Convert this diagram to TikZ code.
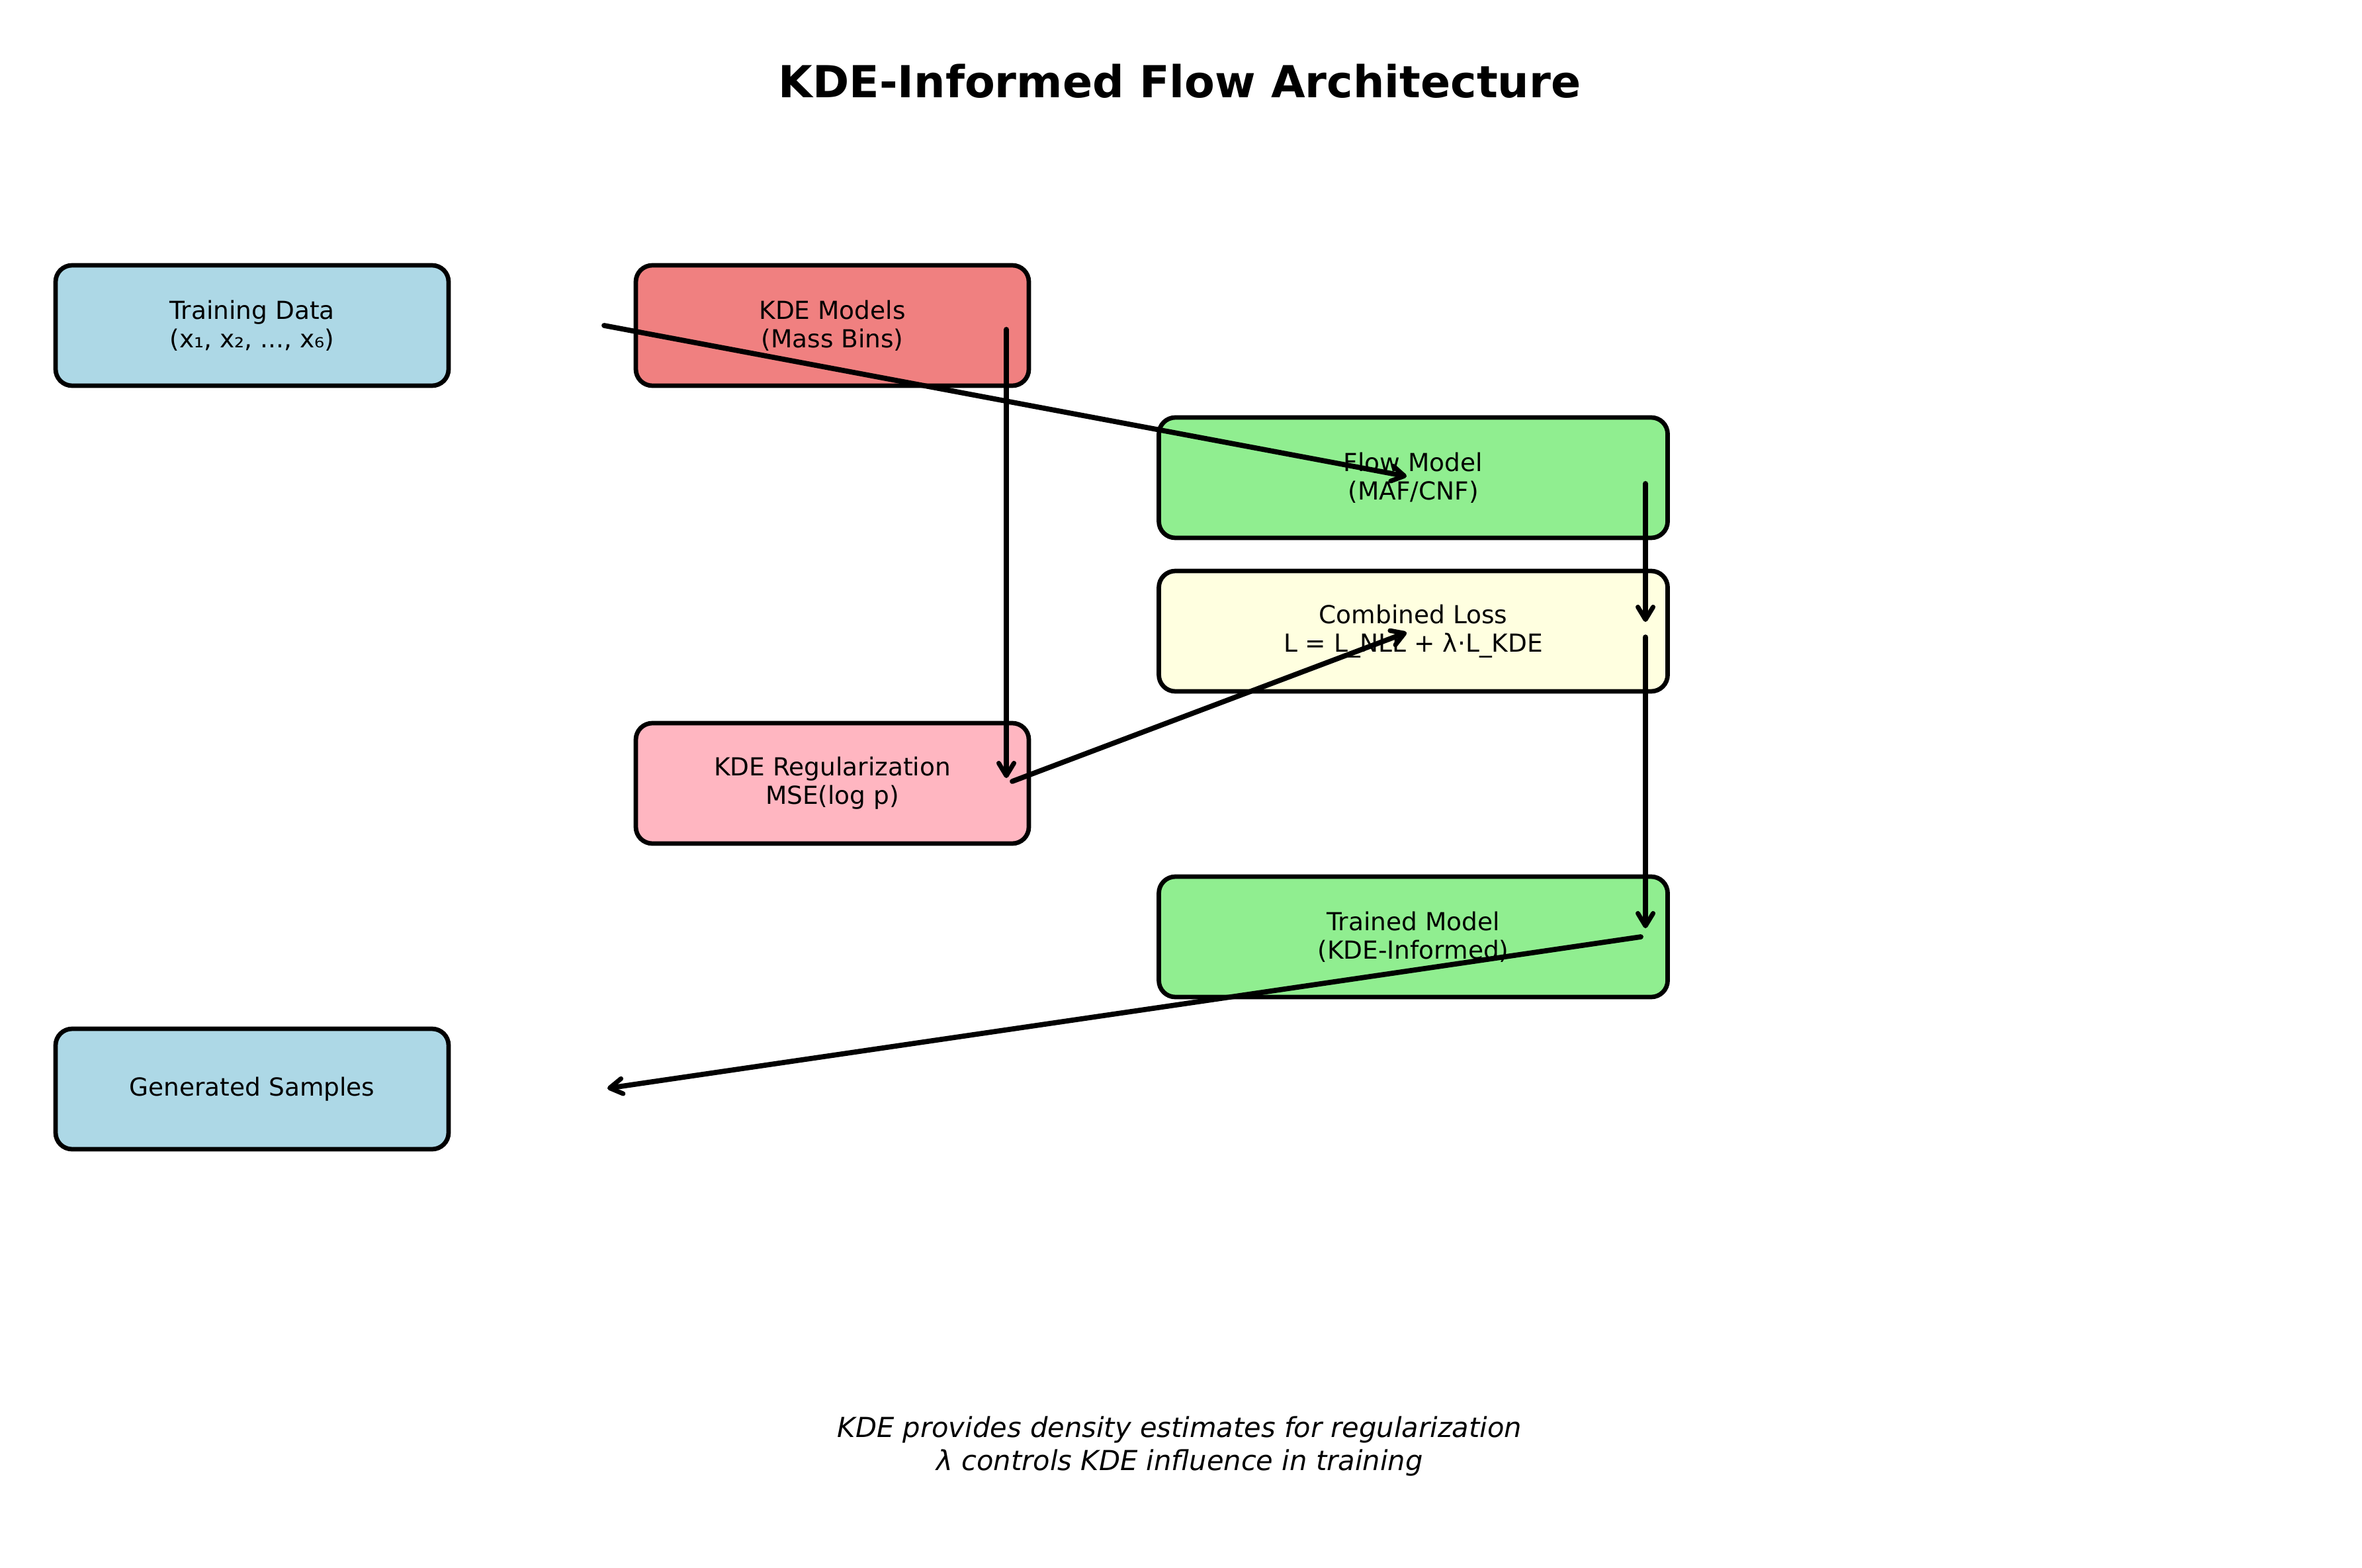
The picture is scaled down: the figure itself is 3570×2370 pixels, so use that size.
\documentclass[tikz,border=0pt]{standalone}
\usepackage{fontspec}
\setmainfont{DejaVu Sans}
\usetikzlibrary{arrows.meta}
\definecolor{cblue}{HTML}{ADD8E6}
\definecolor{ccoral}{HTML}{F08080}
\definecolor{cgreen}{HTML}{90EE90}
\definecolor{cyellow}{HTML}{FFFFE0}
\definecolor{cpink}{HTML}{FFB6C1}
\tikzset{
  box/.style={draw=black, line width=1.35pt, rounded corners=5pt, inner sep=0pt,
    minimum height=36.4pt, align=center,
    font=\fontsize{7.5pt}{8.6pt}\selectfont},
  narrowbox/.style={box, minimum width=118.8pt},
  widebox/.style={box, minimum width=153.8pt},
  flowarrow/.style={line width=1.55pt, line cap=round,
    -{Straight Barb[length=3.8pt,width=4.6pt,line width=1.4pt,round]}},
}
\begin{document}
\begin{tikzpicture}[x=0.2pt,y=-0.2pt]
\useasboundingbox (0,0) rectangle (3570,2370);
\node[font=\bfseries\fontsize{13.33pt}{16pt}\selectfont] (title) at (1783,123) {KDE-Informed Flow Architecture};
\node[narrowbox, fill=cblue] (td) at (381,492) {Training Data\\(x₁, x₂, ..., x₆)};
\node[narrowbox, fill=ccoral] (kde) at (1258,492) {KDE Models\\(Mass Bins)};
\node[widebox, fill=cgreen] (flow) at (2136,722) {Flow Model\\(MAF/CNF)};
\node[widebox, fill=cyellow] (loss) at (2136,954) {Combined Loss\\L = L\_NLL + λ·L\_KDE};
\node[narrowbox, fill=cpink] (reg) at (1258,1184) {KDE Regularization\\MSE(log p)};
\node[widebox, fill=cgreen] (trained) at (2136,1416) {Trained Model\\(KDE-Informed)};
\node[narrowbox, fill=cblue] (gen) at (381,1646) {Generated Samples};
\node[align=center, font=\itshape\fontsize{8.33pt}{10pt}\selectfont] (foot) at (1783,2186)
  {KDE provides density estimates for regularization\\λ controls KDE influence in training};
% connector anchor points
\coordinate (tdOut) at (913,492);
\coordinate (flowIn) at (2126,720);
\coordinate (kdeOut) at (1521,498);
\coordinate (regIn) at (1521,1176);
\coordinate (regOut) at (1530,1181);
\coordinate (lossIn) at (2126,956);
\coordinate (flowOut) at (2487,731);
\coordinate (lossTop) at (2487,940);
\coordinate (lossOut) at (2487,963);
\coordinate (trainedIn) at (2487,1403);
\coordinate (trainedOut) at (2480,1416);
\coordinate (genIn) at (918,1645);
\draw[flowarrow] (tdOut) -- (flowIn);
\draw[flowarrow] (kdeOut) -- (regIn);
\draw[flowarrow] (regOut) -- (lossIn);
\draw[flowarrow] (flowOut) -- (lossTop);
\draw[flowarrow] (lossOut) -- (trainedIn);
\draw[flowarrow] (trainedOut) -- (genIn);
\end{tikzpicture}
\end{document}
